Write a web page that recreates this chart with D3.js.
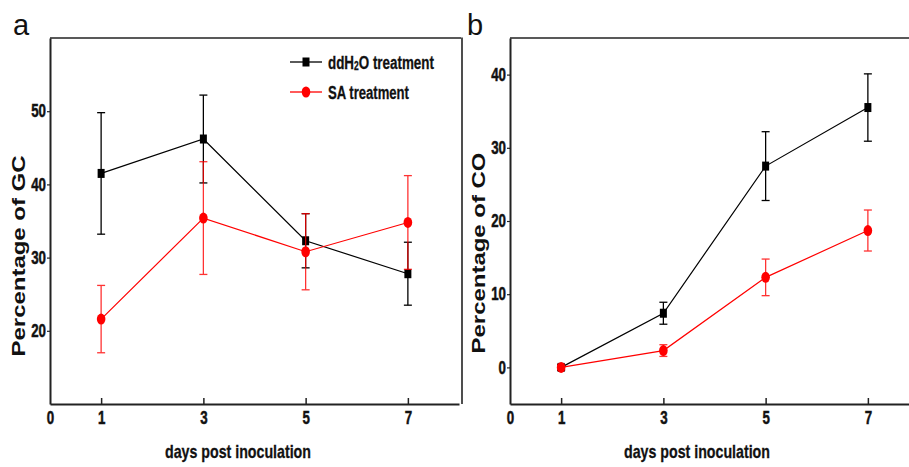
<!DOCTYPE html>
<html lang="en">
<head>
<meta charset="utf-8">
<script src="https://d3js.org/d3.v7.min.js"></script>
<style>
    body { margin: 0; background: #fff; }
    svg { display: block; font-family: "Liberation Sans", Arial, sans-serif; }
</style>
</head>
<body>
<div id="chart"></div>
<script>
    // data
    var days = [1, 3, 5, 7];
    var xTicks = [0, 1, 3, 5, 7];

    // panel a : percentage of GC
    var gcWater = [41.5, 46.2, 32.3, 27.8];
    var gcWaterErr = [8.3, 6.0, 3.7, 4.3];
    var gcSA = [21.6, 35.4, 30.8, 34.8];
    var gcSAErr = [4.6, 7.7, 5.2, 6.4];
    var gcTicks = [20, 30, 40, 50];

    // panel b : percentage of CO
    var coWater = [0, 7.4, 27.5, 35.5];
    var coWaterErr = [0.4, 1.5, 4.7, 4.6];
    var coSA = [0, 2.3, 12.3, 18.7];
    var coSAErr = [0.3, 0.8, 2.5, 2.8];
    var coTicks = [0, 10, 20, 30, 40];

    var W = 909, H = 467;
    var top_ = 38, bottom = 404;

    var svg = d3.select("#chart").append("svg")
        .attr("width", W)
        .attr("height", H);

    // squeeze/stretch a text horizontally (in its own frame) to a wanted length
    function fitScale(node, target) {
        return target / node.getComputedTextLength();
    }

    // tick labels are tall, narrow and heavy in the original
    function tickText(sel, dx) {
        sel.style("font-size", "18px")
            .style("font-weight", "bold")
            .style("font-family", "'Liberation Sans', Arial, sans-serif")
            .attr("fill", "#111")
            .attr("stroke", "#111").attr("stroke-width", 0.5)
            .each(function(d) {
                var s = fitScale(this, String(d).length * 7.4);
                var t = d3.select(this);
                t.attr("x", dx / s).attr("transform", "scale(" + s + ",1)");
            });
    }

    function panel(opt) {
        var x = d3.scaleLinear().domain([0, 8]).range([opt.left, opt.left + 409]);
        var y = d3.scaleLinear().domain(opt.yDomain).range([bottom, top_]);
        var g = svg.append("g");

        // frame: top line and (for a) right line
        g.append("line")
            .attr("x1", opt.left).attr("x2", opt.left + 411)
            .attr("y1", top_).attr("y2", top_)
            .attr("stroke", "#222").attr("stroke-width", 1.6);
        if (opt.rightLine) {
            g.append("line")
                .attr("x1", opt.left + 412).attr("x2", opt.left + 412)
                .attr("y1", top_ - 0.5).attr("y2", bottom)
                .attr("stroke", "#222").attr("stroke-width", 1.6);
        }

        // x axis with inward ticks
        var xa = g.append("g")
            .attr("transform", "translate(0," + bottom + ")")
            .call(d3.axisBottom(x).tickValues(xTicks).tickSizeInner(-6).tickSizeOuter(0).tickPadding(7));
        xa.select(".domain").attr("stroke", "#222").attr("stroke-width", 2);
        xa.selectAll(".tick line").attr("stroke", "#222").attr("stroke-width", 1.5);
        xa.selectAll(".tick").filter(function(d) { return d === 0; }).select("line").remove();
        xa.selectAll("text").call(tickText, 0);

        // y axis with small outward ticks
        var ya = g.append("g")
            .attr("transform", "translate(" + opt.left + ",0)")
            .call(d3.axisLeft(y).tickValues(opt.yTicks).tickSizeInner(3).tickSizeOuter(0).tickPadding(1));
        ya.select(".domain").attr("stroke", "#222").attr("stroke-width", 2);
        ya.selectAll(".tick line").attr("stroke", "#222").attr("stroke-width", 1.2);
        ya.selectAll("text").call(tickText, -4);

        // panel letter
        g.append("text")
            .attr("x", opt.letterX).attr("y", 35)
            .style("font-size", "29px")
            .attr("fill", "#111")
            .text(opt.letter);

        // y title
        var yt = g.append("text")
            .attr("text-anchor", "middle")
            .style("font-size", "17.5px").style("font-weight", "bold")
            .attr("fill", "#111")
            .text(opt.yTitle);
        yt.attr("transform", "translate(" + (opt.left - 25) + "," + opt.yTitleY + ") rotate(-90) scale(" +
            fitScale(yt.node(), 201) + ",1)");

        // x title
        var xt = g.append("text")
            .attr("text-anchor", "middle")
            .style("font-size", "18.5px").style("font-weight", "bold")
            .attr("fill", "#111")
            .attr("stroke", "#111").attr("stroke-width", 0.3)
            .text("days post inoculation");
        xt.attr("transform", "translate(" + opt.xTitleX + ",458) scale(" + fitScale(xt.node(), 146) + ",1)");

        function series(vals, errs, color, shape, errOpacity) {
            var pts = days.map(function(d, i) { return { d: d, v: vals[i], e: errs[i] }; });
            g.append("path")
                .datum(pts)
                .attr("fill", "none")
                .attr("stroke", color)
                .attr("stroke-width", 1.2)
                .attr("d", d3.line().x(function(p) { return x(p.d); }).y(function(p) { return y(p.v); }));

            var eb = g.append("g").attr("stroke", color).attr("stroke-width", 1.3).attr("opacity", errOpacity);
            eb.selectAll("line.v").data(pts).enter().append("line")
                .attr("x1", function(p) { return x(p.d); }).attr("x2", function(p) { return x(p.d); })
                .attr("y1", function(p) { return y(p.v + p.e); }).attr("y2", function(p) { return y(p.v - p.e); });
            eb.selectAll("line.t").data(pts).enter().append("line")
                .attr("x1", function(p) { return x(p.d) - 4; }).attr("x2", function(p) { return x(p.d) + 4; })
                .attr("y1", function(p) { return y(p.v + p.e); }).attr("y2", function(p) { return y(p.v + p.e); });
            eb.selectAll("line.b").data(pts).enter().append("line")
                .attr("x1", function(p) { return x(p.d) - 4; }).attr("x2", function(p) { return x(p.d) + 4; })
                .attr("y1", function(p) { return y(p.v - p.e); }).attr("y2", function(p) { return y(p.v - p.e); });

            if (shape === "square") {
                g.selectAll(null).data(pts).enter().append("rect")
                    .attr("x", function(p) { return x(p.d) - 3.5; })
                    .attr("y", function(p) { return y(p.v) - 4.5; })
                    .attr("width", 7).attr("height", 9)
                    .attr("fill", color);
            } else {
                g.selectAll(null).data(pts).enter().append("ellipse")
                    .attr("cx", function(p) { return x(p.d); })
                    .attr("cy", function(p) { return y(p.v); })
                    .attr("rx", 4.3).attr("ry", 5.5)
                    .attr("fill", color);
            }
        }

        series(opt.water, opt.waterErr, "#000", "square", 1);
        series(opt.sa, opt.saErr, "#ff0000", "circle", 0.8);

        return g;
    }

    var ga = panel({
        left: 50, yDomain: [10, 60], yTicks: gcTicks, rightLine: true,
        letter: "a", letterX: 13, yTitle: "Percentage of GC", yTitleY: 256, xTitleX: 238,
        water: gcWater, waterErr: gcWaterErr, sa: gcSA, saErr: gcSAErr
    });

    panel({
        left: 510, yDomain: [-5, 45], yTicks: coTicks, rightLine: false,
        letter: "b", letterX: 467, yTitle: "Percentage of CO", yTitleY: 253, xTitleX: 697,
        water: coWater, waterErr: coWaterErr, sa: coSA, saErr: coSAErr
    });

    // legend in panel a
    var legend = [
        { name: "water", color: "#000", y: 62, len: 106 },
        { name: "SA", color: "#ff0000", y: 92, len: 81 }
    ];
    var lg = ga.append("g");
    legend.forEach(function(l) {
        lg.append("line")
            .attr("x1", 290).attr("x2", 322).attr("y1", l.y).attr("y2", l.y)
            .attr("stroke", l.color).attr("stroke-width", 1.3);
        if (l.name === "water") {
            lg.append("rect").attr("x", 302.5).attr("y", l.y - 4.5).attr("width", 7).attr("height", 9).attr("fill", l.color);
        } else {
            lg.append("ellipse").attr("cx", 306).attr("cy", l.y).attr("rx", 4.3).attr("ry", 5.5).attr("fill", l.color);
        }
        var t = lg.append("text")
            .style("font-size", "19px").style("font-weight", "bold")
            .attr("fill", "#111")
            .attr("stroke", "#111").attr("stroke-width", 0.3);
        if (l.name === "water") {
            t.append("tspan").text("ddH");
            t.append("tspan").style("font-size", "12px").attr("dy", 1).text("2");
            t.append("tspan").attr("dy", -1).text("O treatment");
        } else {
            t.text("SA treatment");
        }
        t.attr("transform", "translate(328," + (l.y + 6.5) + ") scale(" + fitScale(t.node(), l.len) + ",1)");
    });
</script>
</body>
</html>
